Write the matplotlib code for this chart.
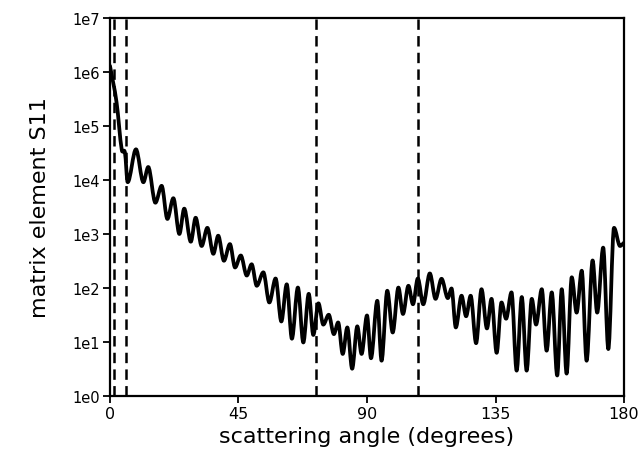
import matplotlib
matplotlib.use("Agg")
import matplotlib.pyplot as plt
from matplotlib.path import Path
from matplotlib.patches import PathPatch
import numpy as np

# scattering angle (degrees) at the read-off extrema of the curve
angle = [0.0, 2.3, 4.1, 5.25, 6.2, 9.1, 11.7, 13.4, 15.9, 18.1, 20.1, 22.2, 24.3, 26.0,
         28.3, 30.0, 32.1, 34.1, 36.2, 37.9, 39.9, 42.0, 43.8, 45.8, 47.9, 49.6, 51.4,
         53.7, 55.8, 58.0, 60.0, 61.9, 63.7, 65.8, 67.7, 69.6, 71.2, 73.0, 74.7, 76.6,
         78.4, 79.9, 81.5, 83.1, 84.8, 86.6, 88.1, 90.0, 91.4, 93.6, 95.1, 97.1, 99.0,
         101.0, 102.6, 104.5, 106.1, 107.8, 109.7, 112.0, 114.0, 116.1, 118.3, 119.6,
         121.1, 123.1, 124.7, 126.3, 128.2, 130.1, 132.0, 133.6, 135.4, 137.1, 138.7,
         140.6, 142.4, 144.2, 145.9, 147.7, 149.2, 151.2, 152.9, 154.7, 156.6, 158.2,
         159.9, 161.7, 163.4, 165.2, 166.9, 169.0, 170.6, 172.7, 174.5, 176.5, 178.6, 180.0]

# matrix element S11 at those angles
s11 = [1.3e6, 2.75e5, 3.7e4, 3.2e4, 9.1e3, 3.7e4, 9.1e3, 1.74e4, 3.8e3, 7.8e3, 1.9e3, 4.6e3,
       1.0e3, 2.95e3, 720, 2.0e3, 600, 1.3e3, 430, 930, 320, 650, 240, 400, 170, 275, 110,
       195, 54, 150, 24, 117, 11.5, 102, 9.8, 78, 13.5, 52, 21, 32, 14, 23, 6.0, 18.6, 3.2,
       19.5, 6.0, 31, 5.0, 58, 4.5, 89, 15, 102, 33, 110, 50, 150, 50, 186, 63, 148, 65, 98,
       18.6, 72, 30, 72, 9.5, 95, 17.8, 63, 6.3, 54, 27, 83, 2.95, 68, 2.95, 63, 21, 95, 6.9,
       83, 2.4, 95, 2.6, 158, 35, 209, 4.5, 324, 35, 560, 7.4, 1.3e3, 600, 690]

# dashed marker angles
marker_angles = [1.3, 5.5, 72.0, 108.0]

x_ticks = [0, 45, 90, 135, 180]
y_ticks = [1e0, 1e1, 1e2, 1e3, 1e4, 1e5, 1e6, 1e7]
y_ticklabels = ["1e0", "1e1", "1e2", "1e3", "1e4", "1e5", "1e6", "1e7"]

plt.rcParams['font.family'] = ['DejaVu Sans']
plt.rcParams['lines.scale_dashes'] = False

fig = plt.figure(figsize=(6.42, 4.56), dpi=100)
ax = fig.add_axes([0.1713, 0.1294, 0.8007, 0.8289])

# Smooth rendering of the read-off points: cubic Bezier segments (drawing style only),
# horizontal tangents at peaks/troughs, computed in log space.
xs = np.asarray(angle, float)
ly = np.log10(np.asarray(s11, float))
n = len(xs)
slopes = np.zeros(n)
for i in range(n):
    if i == 0 or i == n - 1:
        j0, j1 = max(i - 1, 0), min(i + 1, n - 1)
        slopes[i] = (ly[j1] - ly[j0]) / (xs[j1] - xs[j0])
    elif (ly[i] - ly[i - 1]) * (ly[i + 1] - ly[i]) < 0:
        slopes[i] = 0.0
    else:
        slopes[i] = (ly[i + 1] - ly[i - 1]) / (xs[i + 1] - xs[i - 1])
verts = [(xs[0], 10 ** ly[0])]
codes = [Path.MOVETO]
for i in range(n - 1):
    dx = xs[i + 1] - xs[i]
    c1 = (xs[i] + dx / 3, 10 ** (ly[i] + slopes[i] * dx / 3))
    c2 = (xs[i + 1] - dx / 3, 10 ** (ly[i + 1] - slopes[i + 1] * dx / 3))
    verts += [c1, c2, (xs[i + 1], 10 ** ly[i + 1])]
    codes += [Path.CURVE4] * 3
ax.add_patch(PathPatch(Path(verts, codes), facecolor='none', edgecolor='black',
                       lw=2.7, joinstyle='round', capstyle='round', zorder=3))

for a in marker_angles:
    ax.axvline(a, color='black', lw=1.8, dashes=(7.5, 4.5), zorder=2)

ax.set_yscale('log')
ax.set_xlim(0, 180)
ax.set_ylim(1e0, 1e7)
ax.set_xticks(x_ticks)
ax.set_xticklabels([str(t) for t in x_ticks], fontsize=11.5)
ax.set_yticks(y_ticks)
ax.set_yticklabels(y_ticklabels, fontsize=10.5)
ax.yaxis.set_minor_locator(matplotlib.ticker.NullLocator())
ax.tick_params(axis='both', which='major', direction='out', length=5, width=1.3, pad=2)
for s in ax.spines.values():
    s.set_linewidth(1.6)

ax.set_xlabel("scattering angle (degrees)", fontsize=16, labelpad=4)
ax.set_ylabel("matrix element S11", fontsize=16, labelpad=16)

fig.savefig("out.png", dpi=100)
